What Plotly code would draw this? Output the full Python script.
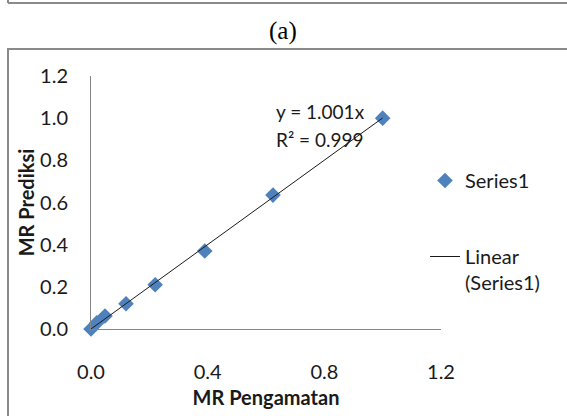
import numpy as np
import plotly.graph_objects as go

# Data
mr_pengamatan = [0.0, 0.02, 0.048, 0.12, 0.22, 0.39, 0.624, 1.0]
mr_prediksi = [0.0, 0.03, 0.062, 0.12, 0.21, 0.37, 0.635, 1.0]
slope = 1.001
r2 = 0.999
x_ticks = [0.0, 0.4, 0.8, 1.2]
y_ticks = [0.0, 0.2, 0.4, 0.6, 0.8, 1.0, 1.2]

W, H = 567, 416
FONT = "Lato"
TXT = "#1a1a1a"
BORDER = "#8a8a8a"
FS = 20

def px(x):
    return x / W

def py(y):
    return 1 - y / H

fit_x = [0.0, max(mr_pengamatan)]
fit_y = [slope * v for v in fit_x]

fig = go.Figure()
fig.add_trace(go.Scatter(
    x=mr_pengamatan, y=mr_prediksi, mode="markers", name="Series1",
    marker=dict(symbol="diamond", size=12, color="#4F81BD", line=dict(width=0)),
    cliponaxis=False, legendgroup="a",
))
fig.add_trace(go.Scatter(
    x=fit_x, y=fit_y, mode="lines", name="Linear<br>(Series1)",
    line=dict(color="#1a1a1a", width=1), cliponaxis=False, legendgroup="b",
))

fig.update_layout(
    width=W, height=H,
    margin=dict(l=0, r=0, t=0, b=0),
    paper_bgcolor="white", plot_bgcolor="white",
    font=dict(family=FONT, size=FS, color=TXT),
    showlegend=True,
    legend=dict(x=px(425), y=py(161), xanchor="left", yanchor="top",
                tracegroupgap=47, valign="top",
                font=dict(family=FONT, size=FS, color=TXT),
                bgcolor="rgba(0,0,0,0)"),
    xaxis=dict(domain=[px(91), px(441)], range=[0, 1.2], tickvals=x_ticks,
               ticktext=[f"{v:.1f}" for v in x_ticks],
               showline=True, linecolor="#868686", linewidth=1,
               showgrid=False, zeroline=False, ticks="", automargin=False,
               ticklabelstandoff=25,
               title=dict(text="<b>MR Pengamatan</b>", standoff=8,
                          font=dict(family=FONT, size=FS, color=TXT))),
    yaxis=dict(domain=[py(329), py(76)], range=[0, 1.2], tickvals=y_ticks,
               ticktext=[f"{v:.1f}" for v in y_ticks],
               showline=True, linecolor="#868686", linewidth=1,
               showgrid=False, zeroline=False, ticks="", automargin=False,
               ticklabelstandoff=18,
               title=dict(text="<b>MR Prediksi</b>", standoff=0,
                          font=dict(family=FONT, size=FS, color=TXT))),
)

# Trendline equation
fig.add_annotation(x=px(274), y=py(111), xref="paper", yref="paper",
                   text=f"y = {slope:.3f}x", showarrow=False, xanchor="left",
                   yanchor="middle", font=dict(family=FONT, size=19, color=TXT))
fig.add_annotation(x=px(274), y=py(139), xref="paper", yref="paper",
                   text=f"R² = {r2:.3f}", showarrow=False, xanchor="left",
                   yanchor="middle", font=dict(family=FONT, size=19, color=TXT))

# Caption
fig.add_annotation(x=px(283), y=py(31), xref="paper", yref="paper",
                   text="(a)", showarrow=False, xanchor="center", yanchor="middle",
                   font=dict(family="Liberation Serif", size=25, color="#000000"))

# Figure frames
fig.add_shape(type="line", xref="paper", yref="paper", x0=px(8), x1=1.05,
              y0=py(3), y1=py(3), line=dict(color=BORDER, width=2))
fig.add_shape(type="line", xref="paper", yref="paper", x0=px(8), x1=px(8),
              y0=py(3), y1=1.05, line=dict(color=BORDER, width=2))
fig.add_shape(type="rect", xref="paper", yref="paper", x0=px(8), x1=1.05,
              y0=-0.05, y1=py(49), line=dict(color=BORDER, width=2),
              fillcolor="rgba(0,0,0,0)")

fig.write_html("out.html")
